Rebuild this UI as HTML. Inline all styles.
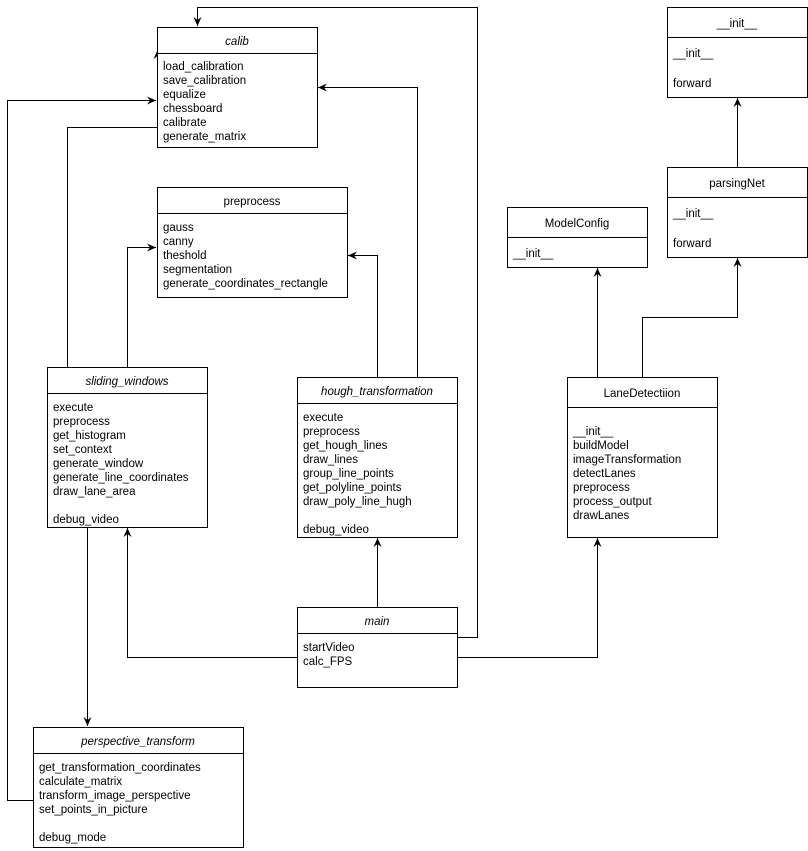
<!DOCTYPE html>
<html><head><meta charset="utf-8"><style>
body{margin:0;background:#fff;}
svg{display:block;font-family:"Liberation Sans",Arial,sans-serif;font-size:11.5px;}
</style></head><body>
<svg width="808" height="851" viewBox="0 0 808 851" xmlns="http://www.w3.org/2000/svg">
<defs>
<marker id="a" markerWidth="10" markerHeight="10" refX="9" refY="5" orient="auto" markerUnits="userSpaceOnUse">
<path d="M0,1 L9,5 L0,9 L3,5 Z" fill="#000"/>
</marker>
</defs>
<g fill="none" stroke="#000" stroke-width="1">
<!-- connectors -->
<polyline points="457.5,637.5 477.5,637.5 477.5,7.5 197.5,7.5 197.5,26" marker-end="url(#a)"/>
<polyline points="457.5,657.5 597.5,657.5 597.5,538" marker-end="url(#a)"/>
<polyline points="377.5,607.5 377.5,538" marker-end="url(#a)"/>
<polyline points="297.5,657.5 127.5,657.5 127.5,528" marker-end="url(#a)"/>
<polyline points="87.5,527.5 87.5,726" marker-end="url(#a)"/>
<polyline points="33.5,800.5 7.5,800.5 7.5,100.5 156,100.5" marker-end="url(#a)"/>
<polyline points="157.5,127.5 67.5,127.5 67.5,367.5"/>
<polyline points="127.5,367.5 127.5,247.5 156,247.5" marker-end="url(#a)"/>
<polyline points="377.5,377.5 377.5,255.5 348,255.5" marker-end="url(#a)"/>
<polyline points="417.5,377.5 417.5,87.5 318,87.5" marker-end="url(#a)"/>
<polyline points="597.5,377.5 597.5,268" marker-end="url(#a)"/>
<polyline points="642.5,377.5 642.5,317.5 737.5,317.5 737.5,258" marker-end="url(#a)"/>
<polyline points="737.5,167.5 737.5,98" marker-end="url(#a)"/>
<polyline points="157.5,58 157.5,50" marker-end="url(#a)"/>
<!-- boxes -->
<rect x="157.5" y="27.5" width="160" height="120" fill="#fff"/><line x1="157.5" y1="53.5" x2="317.5" y2="53.5"/>
<rect x="157.5" y="187.5" width="190" height="110" fill="#fff"/><line x1="157.5" y1="213.5" x2="347.5" y2="213.5"/>
<rect x="47.5" y="367.5" width="160" height="160" fill="#fff"/><line x1="47.5" y1="393.5" x2="207.5" y2="393.5"/>
<rect x="297.5" y="377.5" width="160" height="160" fill="#fff"/><line x1="297.5" y1="403.5" x2="457.5" y2="403.5"/>
<rect x="297.5" y="607.5" width="160" height="80" fill="#fff"/><line x1="297.5" y1="633.5" x2="457.5" y2="633.5"/>
<rect x="33.5" y="727.5" width="210" height="120" fill="#fff"/><line x1="33.5" y1="753.5" x2="243.5" y2="753.5"/>
<rect x="507.5" y="207.5" width="140" height="60" fill="#fff"/><line x1="507.5" y1="237.5" x2="647.5" y2="237.5"/>
<rect x="667.5" y="7.5" width="140" height="90" fill="#fff"/><line x1="667.5" y1="37.5" x2="807.5" y2="37.5"/>
<rect x="667.5" y="167.5" width="140" height="90" fill="#fff"/><line x1="667.5" y1="197.5" x2="807.5" y2="197.5"/>
<rect x="567.5" y="377.5" width="150" height="160" fill="#fff"/><line x1="567.5" y1="407.5" x2="717.5" y2="407.5"/>
</g>
<g fill="#000">
<text x="237" y="45" text-anchor="middle" font-style="italic">calib</text>
<text x="163" y="70">load_calibration</text><text x="163" y="84">save_calibration</text><text x="163" y="98">equalize</text><text x="163" y="112">chessboard</text><text x="163" y="126">calibrate</text><text x="163" y="140">generate_matrix</text>

<text x="252" y="205" text-anchor="middle">preprocess</text>
<text x="163" y="231">gauss</text><text x="163" y="245">canny</text><text x="163" y="259">theshold</text><text x="163" y="273">segmentation</text><text x="163" y="287">generate_coordinates_rectangle</text>

<text x="127" y="385" text-anchor="middle" font-style="italic">sliding_windows</text>
<text x="53" y="411">execute</text><text x="53" y="425">preprocess</text><text x="53" y="439">get_histogram</text><text x="53" y="453">set_context</text><text x="53" y="467">generate_window</text><text x="53" y="481">generate_line_coordinates</text><text x="53" y="495">draw_lane_area</text><text x="53" y="523">debug_video</text>

<text x="377" y="395" text-anchor="middle" font-style="italic">hough_transformation</text>
<text x="303" y="421">execute</text><text x="303" y="435">preprocess</text><text x="303" y="449">get_hough_lines</text><text x="303" y="463">draw_lines</text><text x="303" y="477">group_line_points</text><text x="303" y="491">get_polyline_points</text><text x="303" y="505">draw_poly_line_hugh</text><text x="303" y="533">debug_video</text>

<text x="377" y="625" text-anchor="middle" font-style="italic">main</text>
<text x="303" y="651">startVideo</text><text x="303" y="665">calc_FPS</text>

<text x="138" y="745" text-anchor="middle" font-style="italic">perspective_transform</text>
<text x="39" y="771">get_transformation_coordinates</text><text x="39" y="785">calculate_matrix</text><text x="39" y="799">transform_image_perspective</text><text x="39" y="813">set_points_in_picture</text><text x="39" y="841">debug_mode</text>

<text x="577" y="227" text-anchor="middle">ModelConfig</text>
<text x="513" y="257">__init__</text>

<text x="737" y="27" text-anchor="middle">__init__</text>
<text x="673" y="57">__init__</text><text x="673" y="87">forward</text>

<text x="737" y="187" text-anchor="middle">parsingNet</text>
<text x="673" y="217">__init__</text><text x="673" y="247">forward</text>

<text x="642" y="397" text-anchor="middle">LaneDetectiion</text>
<text x="573" y="435">__init__</text><text x="573" y="449">buildModel</text><text x="573" y="463">imageTransformation</text><text x="573" y="477">detectLanes</text><text x="573" y="491">preprocess</text><text x="573" y="505">process_output</text><text x="573" y="519">drawLanes</text>
</g>
</svg>
</body></html>
